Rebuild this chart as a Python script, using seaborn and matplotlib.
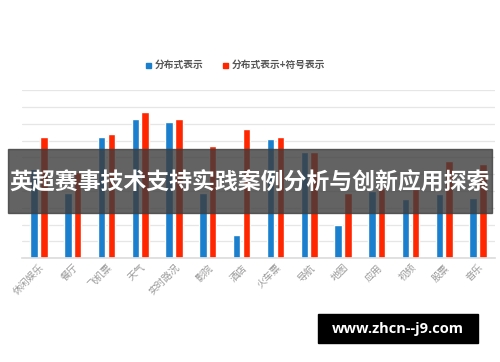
import matplotlib
matplotlib.use("Agg")
import matplotlib.pyplot as plt
import seaborn as sns
import pandas as pd
from matplotlib.patches import Rectangle

categories = ["休闲娱乐", "餐厅", "飞机票", "天气", "实时路况", "影院", "酒店",
              "火车票", "导航", "地图", "应用", "视频", "股票", "音乐"]
series_names = ["分布式表示", "分布式表示+符号表示"]
blue_vals = [5.3, 3.9, 7.2, 8.3, 8.1, 3.9, 1.4, 7.1, 6.3, 2.0, 4.0, 3.5, 3.8, 3.6]
red_vals = [7.2, 5.1, 7.4, 8.7, 8.3, 6.7, 7.7, 7.2, 6.3, 3.9, 4.2, 4.1, 5.8, 5.6]
title_text = "英超赛事技术支持实践案例分析与创新应用探索"
watermark = "www.zhcn--j9.com"

sns.set_theme(style="white")
plt.rcParams['font.family'] = ['Noto Sans CJK SC', 'DejaVu Sans']

df = pd.DataFrame({
    "cat": categories * 2,
    "val": blue_vals + red_vals,
    "series": [series_names[0]] * len(categories) + [series_names[1]] * len(categories),
})

fig = plt.figure(figsize=(5.0, 3.62), dpi=100)
ax = fig.add_axes([0.044, 0.287, 0.946, 0.464])
sns.barplot(data=df, x="cat", y="val", hue="series", order=categories,
            hue_order=series_names, palette=["#1a7fcc", "#ff2600"],
            width=0.58, gap=0.24, saturation=1, ax=ax, legend=False)
ax.set_ylim(0, 10)
ax.set_xlim(-0.5, len(categories) - 0.5)
ax.set_yticks(range(0, 11))
ax.set_yticklabels([])
ax.tick_params(axis='y', length=0)
ax.grid(axis='y', color="#e6e6e6", linewidth=0.9)
ax.set_axisbelow(True)
for s in ["top", "right", "left"]:
    ax.spines[s].set_visible(False)
ax.spines["bottom"].set_color("#dddddd")
ax.set_xlabel("")
ax.set_ylabel("")
ax.tick_params(axis='x', length=0, pad=3)
ax.set_xticks(range(len(categories)))
ax.set_xticklabels(categories, rotation=45, ha="right", rotation_mode="anchor",
                   fontsize=7, color="#999999")

# legend
fig.patches.append(Rectangle((146 / 500, 1 - 68 / 362), 5 / 500, 5 / 362,
                             transform=fig.transFigure, color="#1a7fcc"))
fig.text(155 / 500, 1 - 65 / 362, series_names[0], fontsize=7, color="#555555",
         fontweight="bold", va="center")
fig.patches.append(Rectangle((223 / 500, 1 - 68 / 362), 5 / 500, 5 / 362,
                             transform=fig.transFigure, color="#ff2600"))
fig.text(232 / 500, 1 - 65 / 362, series_names[1], fontsize=7, color="#555555",
         fontweight="bold", va="center")

# banner
fig.patches.append(Rectangle((8 / 500, 1 - 213 / 362), 484 / 500, 64 / 362,
                             transform=fig.transFigure, color="#3c3c3c", alpha=0.8, zorder=5))
fig.text(250 / 500, 1 - 182 / 362, title_text, fontsize=16.5, color="white",
         fontweight="bold", ha="center", va="center", zorder=6)

# watermark
fig.patches.append(Rectangle((318 / 500, 1 - 343 / 362), 160 / 500, 29 / 362,
                             transform=fig.transFigure, color="black", zorder=5))
fig.text(398 / 500, 1 - 328.5 / 362, watermark, fontsize=10.5, color="white",
         fontweight="bold", ha="center", va="center", zorder=6,
         family=["Open Sans", "DejaVu Sans"])

fig.savefig("out.png", dpi=100)
